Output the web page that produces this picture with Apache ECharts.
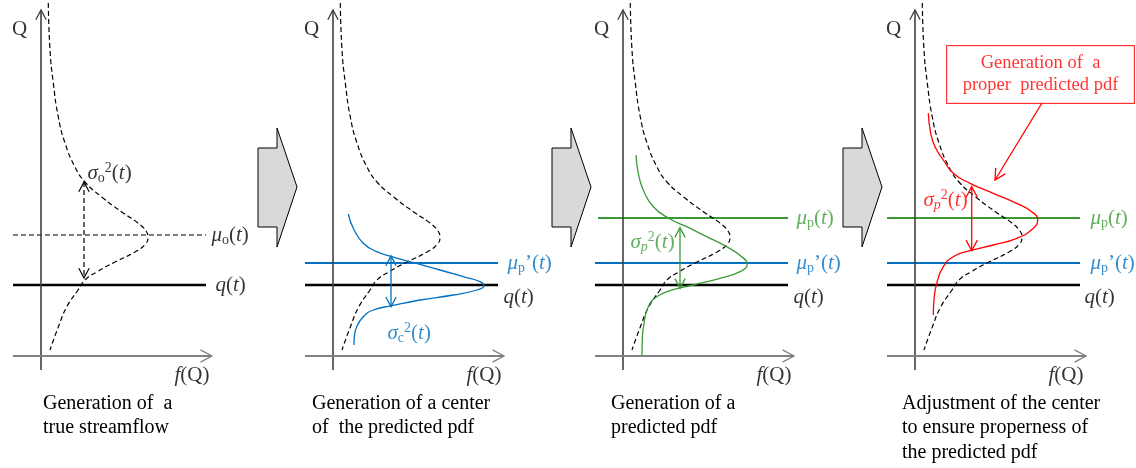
<!DOCTYPE html>
<html><head><meta charset="utf-8">
<script src="https://cdn.jsdelivr.net/npm/echarts@6/dist/echarts.min.js"></script>
<style>html,body{margin:0;padding:0;background:#fff}#c{width:1136px;height:468px}</style>
</head><body><div id="c"></div>
<script>
// ---------- data (x = f(Q), y = Q, arbitrary units) ----------
const dashedPdf = [[0.73,35.3],[0.9,30.6],[1.23,27.3],[1.73,23.9],[2.4,21.3],[3.4,18.9],[4.4,17.4],[6.07,15.9],[8.07,14.4],[9.7,13.3],[10.5,12.5],[10.7,11.9],[10.45,11.2],[9.4,10.4],[7.4,9.4],[5.57,8.4],[4.4,7.6],[3.7,6.6],[2.57,4.9],[1.73,2.9],[0.9,0.6]];
const centerPdf = [[1.53,14.2],[2.03,12.77],[3.03,11.27],[4.37,10.43],[5.87,9.93],[8.03,9.33],[10.7,8.6],[13.03,7.93],[14.7,7.43],[15.1,7.03],[14.37,6.6],[12.03,6.1],[8.7,5.6],[5.87,5.03],[4.03,4.6],[3.03,3.93],[2.37,2.93],[2.13,1.93],[2.1,1.1]];
const predictedPdf = [[1.3,20.1],[1.53,18.27],[2.03,16.6],[3.03,14.93],[4.7,13.7],[6.37,12.93],[8.37,11.93],[10.37,10.93],[11.87,9.93],[12.43,9.2],[11.7,8.43],[9.7,7.77],[7.03,7.1],[4.7,6.53],[3.37,5.93],[2.53,4.93],[2.1,3.27],[1.93,1.6],[1.9,0.1]];
const properPdf = [[1.33,24.27],[1.57,22.27],[2.0,20.93],[2.83,19.6],[3.83,18.27],[5.5,17.27],[7.83,16.27],[10.17,15.27],[11.67,14.43],[12.27,13.67],[11.83,12.77],[10.17,11.77],[7.83,11.1],[5.5,10.53],[3.83,9.93],[2.83,8.93],[2.17,7.27],[1.9,5.6],[1.83,4.1]];

const qLevel = 7.1;        // q(t)
const muOLevel = 12.1;     // mu_o(t)
const muPrimeLevel = 9.3;  // mu_p'(t)
const muPLevel = 13.8;     // mu_p(t)

// variance arrows: [x, Qtop, Qbottom]
const sigmaO = [4.3, 17.4, 7.8];
const sigmaC = [5.8, 10.0, 4.93];
const sigmaP3 = [5.7, 12.83, 6.77];
const sigmaP4 = [5.67, 16.93, 10.53];

const axisQRange = [-1.4, 34.6];
const axisFRange = [-2.8, 17.1];
const levelRange = [-2.8, 16.5];

const captions = [
  'Generation of  a\ntrue streamflow',
  'Generation of a center\nof  the predicted pdf',
  'Generation of a\npredicted pdf',
  'Adjustment of the center\nto ensure properness of\nthe predicted pdf'
];
const calloutText = 'Generation of  a\nproper  predicted pdf';
const calloutAnchor = [12.55, 28.15];
const calloutArrow = [12.7, 25.3, 8.0, 17.6];

// ---------- layout / style ----------
const FONT = '"Liberation Serif","Times New Roman",serif';
const BLUE = '#0070C0', GREEN = '#3A9B35', RED = '#FF0000';
const origins = [41, 333, 623, 915];
const captionLeft = [43, 312, 611, 902];

function rich(color) {
  return {
    n: {fontFamily: FONT, fontSize: 21, lineHeight: 24, color},
    i: {fontFamily: FONT, fontSize: 21, lineHeight: 24, fontStyle: 'italic', color},
    sb: {fontFamily: FONT, fontSize: 14, lineHeight: 14, verticalAlign: 'bottom', color},
    sbi: {fontFamily: FONT, fontSize: 14, lineHeight: 14, verticalAlign: 'bottom', fontStyle: 'italic', color},
    sp: {fontFamily: FONT, fontSize: 14, lineHeight: 14, verticalAlign: 'top', color}
  };
}
const TXT = {
  Q: '{n|Q}',
  fQ: '{i|f}{n|(Q)}',
  q: '{i|q}{n|(}{i|t}{n|)}',
  muO: '{i|μ}{sb|o}{n|(}{i|t}{n|)}',
  muPp: '{i|μ}{sb|p}{n|’(}{i|t}{n|)}',
  muP: '{i|μ}{sb|p}{n|(}{i|t}{n|)}',
  sigO: '{i|σ}{sb|o}{sp|2}{n|(}{i|t}{n|)}',
  sigC: '{i|σ}{sb|c}{sp|2}{n|(}{i|t}{n|)}',
  sigP: '{i|σ}{sbi|p}{sp|2}{n|(}{i|t}{n|)}'
};

function lbl(x, y, key, color, position) {
  const t = TXT[key];
  return {value: [x, y], label: {show: true, position: position || 'right', distance: 0,
    formatter: () => t, rich: rich(color)}};
}

function arrowRender(color, width, dash, head) {
  return function (params, api) {
    const a = api.coord([api.value(0), api.value(1)]);
    const b = api.coord([api.value(2), api.value(3)]);
    const children = [{type: 'line', shape: {x1: a[0], y1: a[1], x2: b[0], y2: b[1]},
      style: {stroke: color, lineWidth: width, lineDash: dash || null, fill: 'none'}}];
    const addHead = (tip, from) => {
      const dx = tip[0] - from[0], dy = tip[1] - from[1];
      const L = Math.hypot(dx, dy), ux = dx / L, uy = dy / L;
      const ang = 28 * Math.PI / 180, c = Math.cos(ang), s = Math.sin(ang);
      const r1 = [tip[0] - head * (ux * c - uy * s), tip[1] - head * (uy * c + ux * s)];
      const r2 = [tip[0] - head * (ux * c + uy * s), tip[1] - head * (uy * c - ux * s)];
      children.push({type: 'polyline', shape: {points: [r1, tip, r2]},
        style: {stroke: color, lineWidth: Math.min(width, 1.3), fill: 'none'}});
    };
    if (api.value(4)) addHead(a, b);
    if (api.value(5)) addHead(b, a);
    return {type: 'group', children};
  };
}
function arrowSeries(p, segs, color, width, dash, head) {
  return {type: 'custom', coordinateSystem: 'cartesian2d', xAxisIndex: p, yAxisIndex: p,
    renderItem: arrowRender(color, width, dash, head), data: segs,
    encode: {x: [0, 2], y: [1, 3]}, z: 5, silent: true};
}
function curve(p, data, color, width, dash) {
  return {type: 'line', xAxisIndex: p, yAxisIndex: p, data, smooth: 0.5, symbol: 'none',
    lineStyle: {color, width, type: dash ? [5, 3] : 'solid'}, z: 3, silent: true};
}
function level(p, y, color, width, dash, from) {
  return {type: 'line', xAxisIndex: p, yAxisIndex: p,
    data: [[from == null ? levelRange[0] : from, y], [levelRange[1], y]], symbol: 'none',
    lineStyle: {color, width, type: dash ? [5, 3] : 'solid'}, z: 2, silent: true};
}
function labels(p, items) {
  return {type: 'scatter', xAxisIndex: p, yAxisIndex: p, symbolSize: 1,
    itemStyle: {color: 'rgba(0,0,0,0)'}, data: items, z: 6, silent: true};
}

const grids = [], xAxes = [], yAxes = [], series = [];
for (let p = 0; p < 4; p++) {
  grids.push({left: origins[p] - 30, top: 0, width: 230, height: 380});
  xAxes.push({gridIndex: p, type: 'value', min: -3, max: 20, show: false});
  yAxes.push({gridIndex: p, type: 'value', min: -2.4, max: 35.6, show: false});
  // axes
  series.push(arrowSeries(p, [[0, axisQRange[0], 0, axisQRange[1], 0, 1]], '#404040', 1.6, null, 11));
  series.push(arrowSeries(p, [[axisFRange[0], 0, axisFRange[1], 0, 0, 1]], '#808080', 2, null, 13));
  series.push(labels(p, [lbl(-2.95, 32.7, 'Q', '#000'), lbl(16.9, -1.9, 'fQ', '#000', 'left')]));
}

// panel 1
series.push(level(0, muOLevel, '#000', 1.2, true));
series.push(level(0, qLevel, '#000', 2.5));
series.push(curve(0, dashedPdf, '#000', 1.2, true));
series.push(arrowSeries(0, [[sigmaO[0], sigmaO[1], sigmaO[0], sigmaO[2], 1, 1]], '#000', 1.2, [5, 3], 11));
series.push(labels(0, [lbl(levelRange[1] + 0.5, muOLevel, 'muO', '#000'),
  lbl(levelRange[1] + 0.9, qLevel, 'q', '#000'), lbl(sigmaO[0] + 0.3, 18.3, 'sigO', '#000')]));

// panel 2
series.push(level(1, muPrimeLevel, BLUE, 2.2));
series.push(level(1, qLevel, '#000', 2.5));
series.push(curve(1, dashedPdf, '#000', 1.2, true));
series.push(curve(1, centerPdf, BLUE, 1.3));
series.push(arrowSeries(1, [[sigmaC[0], sigmaC[1], sigmaC[0], sigmaC[2], 1, 1]], BLUE, 1.3, null, 11));
series.push(labels(1, [lbl(levelRange[1] + 0.9, muPrimeLevel, 'muPp', BLUE),
  lbl(levelRange[1] + 0.5, qLevel - 1.2, 'q', '#000'), lbl(5.4, 2.3, 'sigC', BLUE)]));

// panel 3
series.push(level(2, muPLevel, GREEN, 2.2, false, -2.5));
series.push(level(2, muPrimeLevel, BLUE, 2.2));
series.push(level(2, qLevel, '#000', 2.5));
series.push(curve(2, dashedPdf, '#000', 1.2, true));
series.push(curve(2, predictedPdf, GREEN, 1.3));
series.push(arrowSeries(2, [[sigmaP3[0], sigmaP3[1], sigmaP3[0], sigmaP3[2], 1, 1]], GREEN, 1.3, null, 11));
series.push(labels(2, [lbl(levelRange[1] + 0.8, muPLevel, 'muP', GREEN),
  lbl(levelRange[1] + 0.8, muPrimeLevel, 'muPp', BLUE),
  lbl(levelRange[1] + 0.5, qLevel - 1.2, 'q', '#000'), lbl(0.7, 11.4, 'sigP', GREEN)]));

// panel 4
series.push(level(3, muPLevel, GREEN, 2.2));
series.push(level(3, muPrimeLevel, BLUE, 2.2));
series.push(level(3, qLevel, '#000', 2.5));
series.push(curve(3, dashedPdf, '#000', 1.2, true));
series.push(curve(3, properPdf, RED, 1.3));
series.push(arrowSeries(3, [[sigmaP4[0], sigmaP4[1], sigmaP4[0], sigmaP4[2], 1, 1],
  calloutArrow.concat([0, 1])], RED, 1.3, null, 12));
series.push(labels(3, [lbl(levelRange[1] + 1.0, muPLevel, 'muP', GREEN),
  lbl(levelRange[1] + 1.0, muPrimeLevel, 'muPp', BLUE),
  lbl(levelRange[1] + 0.4, qLevel - 1.2, 'q', '#000'), lbl(0.8, 15.6, 'sigP', RED),
  {value: calloutAnchor, label: {show: true, position: 'inside', formatter: () => calloutText,
    fontFamily: FONT, fontSize: 18.5, lineHeight: 22, color: RED, width: 187, align: 'center',
    padding: [9, 0, 4, 0], borderColor: RED, borderWidth: 1, backgroundColor: '#fff'}}]));

const blockArrowX = [258, 552, 843];
const graphic = blockArrowX.map(x0 => ({type: 'polygon', silent: true,
  shape: {points: [[x0, 148], [x0 + 19, 148], [x0 + 19, 128], [x0 + 39, 187], [x0 + 19, 247], [x0 + 19, 227], [x0, 227]]},
  style: {fill: '#D9D9D9', stroke: '#000', lineWidth: 1}}));

const title = captions.map((t, i) => ({text: t, left: captionLeft[i], top: 391, padding: 0,
  textStyle: {fontFamily: FONT, fontSize: 20, fontWeight: 'normal', lineHeight: 24.5, color: '#000'}}));

const chart = echarts.init(document.getElementById('c'), null, {renderer: 'canvas'});
chart.setOption({animation: false, backgroundColor: '#fff', title, grid: grids,
  xAxis: xAxes, yAxis: yAxes, series, graphic});
</script></body></html>
